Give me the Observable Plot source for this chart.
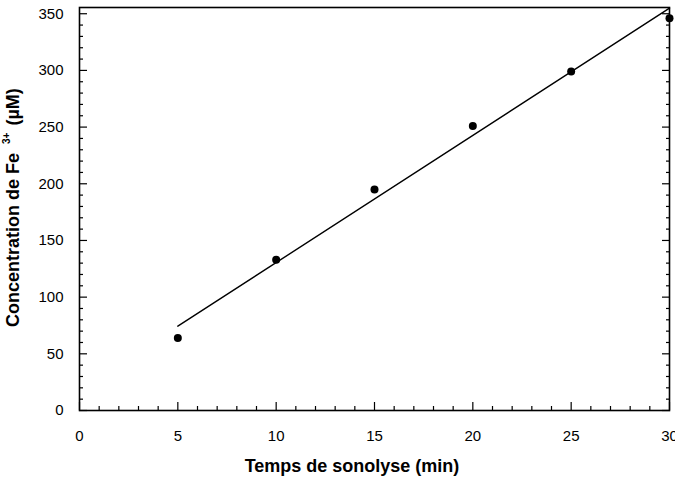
<!DOCTYPE html>
<html>
<head>
<meta charset="utf-8">
<script src="https://cdn.jsdelivr.net/npm/d3@7"></script>
<script src="https://cdn.jsdelivr.net/npm/@observablehq/plot@0.6"></script>
<style>
  html, body { margin: 0; padding: 0; background: white; }
</style>
</head>
<body>
<div id="chart"></div>
<script>
const times = [5, 10, 15, 20, 25, 30];
const concentrations = [64, 133, 195, 251, 299, 346];
const xMajorTicks = [0, 5, 10, 15, 20, 25, 30];
const xMinorTicks = d3.range(0, 31).filter(d => d % 5 !== 0);
const yMajorTicks = [0, 50, 100, 150, 200, 250, 300, 350];
const yMinorTicks = d3.range(0, 351, 10).filter(d => d % 50 !== 0);
const xLabel = "Temps de sonolyse (min)";
const yLabelMain = "Concentration de Fe";
const yLabelSup = "3+";
const yLabelUnit = "(µM)";

const data = times.map((t, i) => ({t, c: concentrations[i]}));
const font = "'Liberation Sans', Arial, Helvetica, sans-serif";

const chart = Plot.plot({
  width: 675,
  height: 494,
  marginLeft: 79,
  marginRight: 6,
  marginTop: 7,
  marginBottom: 84,
  style: {fontFamily: font, fontSize: "15px", color: "black", background: "white"},
  x: {domain: [0, 30]},
  y: {domain: [0, 355.5]},
  marks: [
    Plot.axisX(xMajorTicks, {anchor: "bottom", tickSize: -8, tickPadding: 28, strokeWidth: 1.2, label: null, fontSize: 15}),
    Plot.axisX(xMinorTicks, {anchor: "bottom", tickSize: -4, strokeWidth: 1.2, fill: "none", label: null}),
    Plot.axisY(yMajorTicks, {anchor: "left", tickSize: -8, tickPadding: 24, strokeWidth: 1.2, label: null, fontSize: 15}),
    Plot.axisY(yMinorTicks, {anchor: "left", tickSize: -4, strokeWidth: 1.2, fill: "none", label: null}),
    Plot.axisY(yMajorTicks, {anchor: "right", tickSize: -8, strokeWidth: 1.2, fill: "none", label: null}),
    Plot.axisY(yMinorTicks, {anchor: "right", tickSize: -4, strokeWidth: 1.2, fill: "none", label: null}),
    Plot.linearRegressionY(data, {x: "t", y: "c", ci: 0, stroke: "black", strokeWidth: 1.4}),
    Plot.dot(data, {x: "t", y: "c", r: 4, fill: "black", stroke: "none"}),
    Plot.frame({stroke: "black", strokeWidth: 1.6})
  ]
});

const svg = d3.select(chart);
svg.append("text")
  .attr("x", 352)
  .attr("y", 471.5)
  .attr("text-anchor", "middle")
  .attr("font-weight", "bold")
  .attr("font-size", 18)
  .attr("fill", "black")
  .text(xLabel);

const yl = svg.append("text")
  .attr("transform", "translate(18.5,327) rotate(-90)")
  .attr("text-anchor", "start")
  .attr("font-weight", "bold")
  .attr("font-size", 18)
  .attr("fill", "black");
yl.append("tspan").text(yLabelMain);
yl.append("tspan").attr("dx", 9).attr("dy", -8.5).attr("font-size", 10).text(yLabelSup);
yl.append("tspan").attr("dx", 7).attr("dy", 8.5).attr("font-size", 18).text(yLabelUnit);

document.getElementById("chart").appendChild(chart);
</script>
</body>
</html>
